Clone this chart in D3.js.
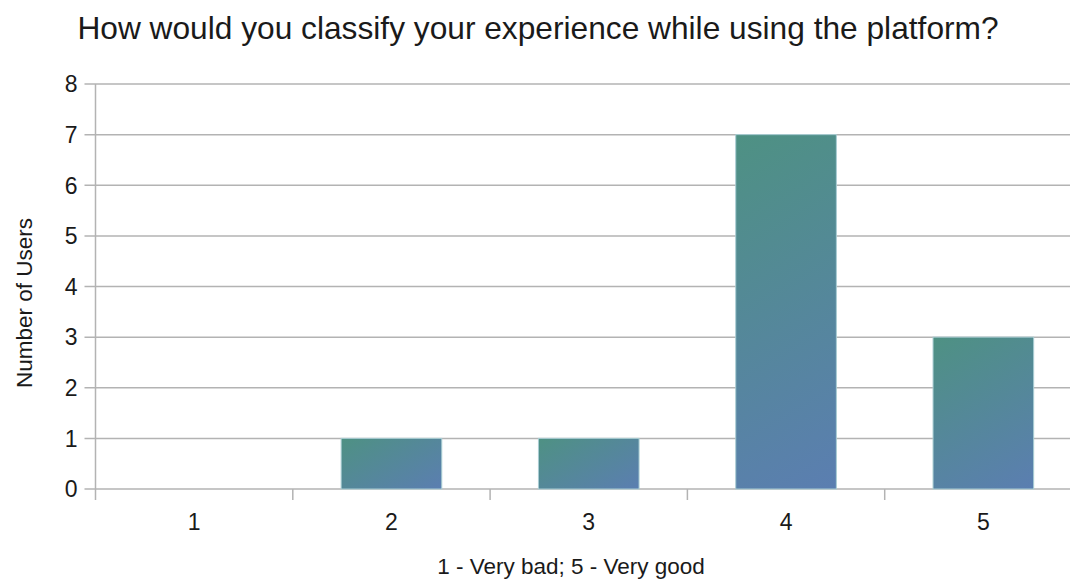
<!DOCTYPE html>
<html>
<head>
<meta charset="utf-8">
<script src="https://cdn.jsdelivr.net/npm/d3@7"></script>
<style>
  html, body { margin: 0; padding: 0; background: #fff; }
  svg { display: block; font-family: "Liberation Sans", Arial, sans-serif; }
</style>
</head>
<body>
<svg id="chart" width="1070" height="579"></svg>
<script>
// Survey answers: rating (1 = very bad, 5 = very good) and how many users chose it
const categories = ["1", "2", "3", "4", "5"];
const userCounts = [0, 1, 1, 7, 3];
const yTicks = [0, 1, 2, 3, 4, 5, 6, 7, 8];

const chartTitle = "How would you classify your experience while using the platform?";
const xTitle = "1 - Very bad; 5 - Very good";
const yTitle = "Number of Users";

const svg = d3.select("#chart");
const plot = { left: 95.5, right: 1082, top: 84, bottom: 489 };
const gridColor = "#b3b3b3";
const textColor = "#1a1a1a";

const x = d3.scaleBand()
  .domain(categories)
  .range([plot.left, plot.right])
  .paddingInner(0.49)
  .paddingOuter(0.245);

// Band boundaries for the category tick marks
const slot = d3.scaleBand().domain(categories).range([plot.left, plot.right]);

const y = d3.scaleLinear().domain([0, 8]).range([plot.bottom, plot.top]);

const bars = categories.map((c, i) => ({ c, v: userCounts[i], i })).filter(d => d.v > 0);

// One gradient per bar, angled in user space so that tall and short bars
// both fade from teal at the top-left to blue at the bottom-right
const defs = svg.append("defs");
const dirX = Math.sin(Math.PI / 6), dirY = Math.cos(Math.PI / 6);
bars.forEach(d => {
  const x0 = x(d.c), y0 = y(d.v), w = x.bandwidth(), h = y(0) - y(d.v);
  const len = w * dirX + h * dirY;
  const g = defs.append("linearGradient")
    .attr("id", "barFill" + d.i)
    .attr("gradientUnits", "userSpaceOnUse")
    .attr("x1", x0).attr("y1", y0)
    .attr("x2", x0 + dirX * len).attr("y2", y0 + dirY * len);
  g.append("stop").attr("offset", "0%").attr("stop-color", "#4e9183");
  g.append("stop").attr("offset", "100%").attr("stop-color", "#5b7eb1");
});

// Horizontal gridlines with short ticks extending left of the axis
svg.append("g")
  .selectAll("line")
  .data(yTicks)
  .join("line")
  .attr("x1", plot.left - 11)
  .attr("x2", 1070)
  .attr("y1", d => y(d))
  .attr("y2", d => y(d))
  .attr("stroke", gridColor)
  .attr("stroke-width", 1.5);

// Bars
svg.append("g")
  .selectAll("rect")
  .data(bars)
  .join("rect")
  .attr("x", d => x(d.c))
  .attr("y", d => y(d.v))
  .attr("width", x.bandwidth())
  .attr("height", d => y(0) - y(d.v))
  .attr("fill", d => `url(#barFill${d.i})`)
  .attr("stroke", "#a9cdd3")
  .attr("stroke-width", 1);

// Y axis line
svg.append("line")
  .attr("x1", plot.left).attr("x2", plot.left)
  .attr("y1", plot.top).attr("y2", plot.bottom + 11)
  .attr("stroke", gridColor)
  .attr("stroke-width", 1.5);

// X axis tick marks at the category boundaries
svg.append("g")
  .selectAll("line")
  .data(categories.slice(1))
  .join("line")
  .attr("x1", d => slot(d))
  .attr("x2", d => slot(d))
  .attr("y1", plot.bottom)
  .attr("y2", plot.bottom + 11)
  .attr("stroke", gridColor)
  .attr("stroke-width", 1.5);

// Y tick labels
svg.append("g")
  .selectAll("text")
  .data(yTicks)
  .join("text")
  .attr("x", plot.left - 18)
  .attr("y", d => y(d))
  .attr("dy", "0.36em")
  .attr("text-anchor", "end")
  .attr("font-size", 23)
  .attr("fill", textColor)
  .text(d => d);

// X tick labels
svg.append("g")
  .selectAll("text")
  .data(categories)
  .join("text")
  .attr("x", d => x(d) + x.bandwidth() / 2)
  .attr("y", 530)
  .attr("text-anchor", "middle")
  .attr("font-size", 23)
  .attr("fill", textColor)
  .text(d => d);

// Titles
svg.append("text")
  .attr("x", 538)
  .attr("y", 39)
  .attr("text-anchor", "middle")
  .attr("font-size", 31.7)
  .attr("fill", textColor)
  .text(chartTitle);

svg.append("text")
  .attr("x", 571)
  .attr("y", 574)
  .attr("text-anchor", "middle")
  .attr("font-size", 22.5)
  .attr("fill", textColor)
  .text(xTitle);

svg.append("text")
  .attr("transform", "translate(32,303) rotate(-90)")
  .attr("text-anchor", "middle")
  .attr("font-size", 22.5)
  .attr("fill", textColor)
  .text(yTitle);
</script>
</body>
</html>
